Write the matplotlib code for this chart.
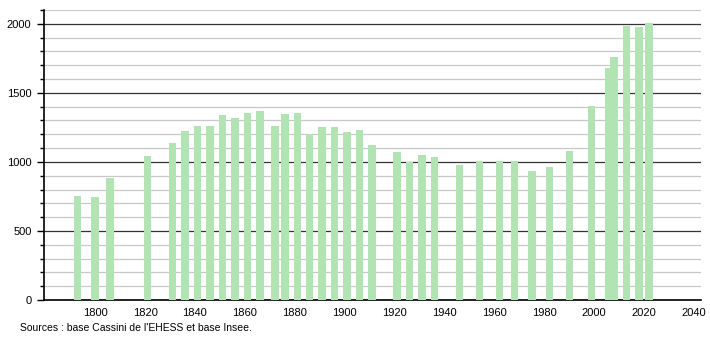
import matplotlib.pyplot as plt
from matplotlib.ticker import MultipleLocator

# recensements
years = [1793, 1800, 1806, 1821, 1831, 1836, 1841, 1846, 1851, 1856,
         1861, 1866, 1872, 1876, 1881, 1886, 1891, 1896, 1901, 1906,
         1911, 1921, 1926, 1931, 1936, 1946, 1954, 1962, 1968, 1975,
         1982, 1990, 1999, 2006, 2008, 2013, 2018, 2022]
population = [756, 746, 882, 1046, 1135, 1225, 1261, 1261, 1338, 1319,
              1355, 1370, 1261, 1348, 1355, 1203, 1251, 1254, 1217, 1232,
              1121, 1072, 998, 1051, 1036, 978, 1007, 1007, 1004, 932,
              964, 1077, 1406, 1679, 1761, 1986, 1978, 2005]
x_ticks = list(range(1800, 2041, 20))

plt.rcParams['font.family'] = ['Liberation Sans', 'DejaVu Sans']

fig = plt.figure(figsize=(7.1, 3.4), dpi=100)
ax = fig.add_axes([44 / 710, 40 / 340, 657 / 710, 290 / 340])

ax.bar(years, population, width=3.0, color='#b2e3b2', zorder=3)

ax.set_xlim(1779.5, 2042.8)
ax.set_ylim(0, 2100)
ax.set_xticks(x_ticks)
ax.yaxis.set_major_locator(MultipleLocator(500))
ax.yaxis.set_minor_locator(MultipleLocator(100))

# grille
ax.grid(which='minor', axis='y', color='#c8c8c8', linewidth=0.9, zorder=0)
ax.grid(which='major', axis='y', color='#333333', linewidth=0.9, zorder=1)

for s in ['top', 'right']:
    ax.spines[s].set_visible(False)
ax.spines['left'].set_linewidth(1.2)
ax.spines['bottom'].set_linewidth(1.2)

ax.tick_params(axis='x', length=0, labelsize=8, pad=6)
ax.tick_params(axis='y', which='major', length=5, width=1, labelsize=8, pad=4)
ax.tick_params(axis='y', which='minor', length=3, width=1)

fig.text(20 / 710, 1 - 328 / 340, "Sources : base Cassini de l'EHESS et base Insee.",
         fontsize=7.5, va='center', ha='left')

fig.savefig('out.png', dpi=100, facecolor='white')
